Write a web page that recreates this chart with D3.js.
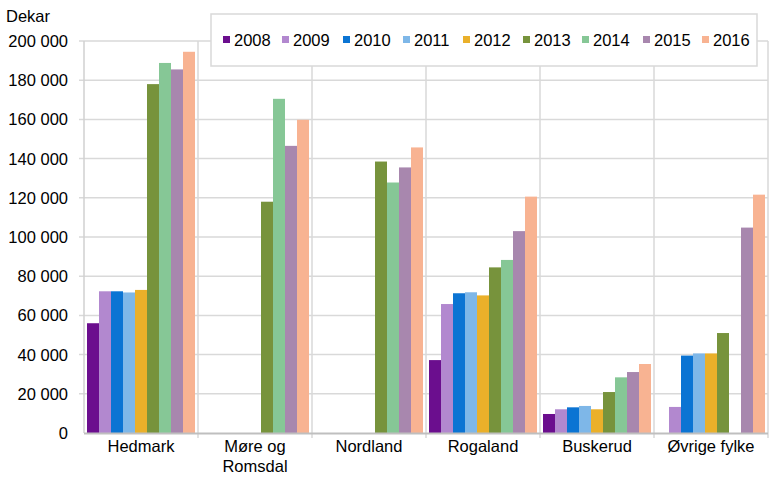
<!DOCTYPE html>
<html><head><meta charset="utf-8">
<script src="https://cdn.jsdelivr.net/npm/d3@7"></script>
<style>body{margin:0;background:#fff}svg text{font-family:"Liberation Sans",Arial,sans-serif;fill:#000}</style>
</head><body><svg id="c" width="772" height="481"></svg>
<script>
const categories = ["Hedmark", "Møre og\nRomsdal", "Nordland", "Rogaland", "Buskerud", "Øvrige fylke"];
const years = ["2008","2009","2010","2011","2012","2013","2014","2015","2016"];
const colors = ["#6B0E8E","#B288CF","#0B74D3","#7EB7E8","#EAB02A","#77933C","#86C796","#A887AE","#F8B392"];
const v2008 = [56000, null, null, 37200, 9700, null];
const v2009 = [72300, null, null, 65800, 12100, 13300];
const v2010 = [72300, null, null, 71300, 13100, 39500];
const v2011 = [71700, null, null, 71800, 13800, 40600];
const v2012 = [73000, null, null, 70200, 12100, 40600];
const v2013 = [178000, 118000, 138500, 84500, 20900, 51000];
const v2014 = [188800, 170500, 127800, 88300, 28400, null];
const v2015 = [185500, 146500, 135500, 103000, 31100, 104800];
const v2016 = [194500, 159800, 145700, 120600, 35200, 121600];
const series = [v2008,v2009,v2010,v2011,v2012,v2013,v2014,v2015,v2016];
const yTicks = [0,20000,40000,60000,80000,100000,120000,140000,160000,180000,200000];

const svg = d3.select("#c");
const L=84, R=768, T=41, B=433;
const x0 = d3.scaleBand().domain(categories).range([L,R]).padding(0);
const x1 = d3.scaleBand().domain(years).range([0,x0.bandwidth()]).paddingInner(0).paddingOuter(0.25);
const y = d3.scaleLinear().domain([0,200000]).range([B,T]);
const fmt = d => d3.format(",")(d).replace(/,/g," ");

// horizontal grid
svg.append("g").selectAll("line").data(yTicks.slice(1)).join("line")
  .attr("x1",L-5).attr("x2",R).attr("y1",d=>y(d)).attr("y2",d=>y(d))
  .attr("stroke","#d9d9d9").attr("stroke-width",1.5);
// vertical grid
svg.append("g").selectAll("line").data(categories).join("line")
  .attr("x1",d=>x0(d)+x0.bandwidth()).attr("x2",d=>x0(d)+x0.bandwidth())
  .attr("y1",T).attr("y2",B+5).attr("stroke","#d9d9d9").attr("stroke-width",1.5);
svg.append("line").attr("x1",L).attr("x2",L).attr("y1",T).attr("y2",B)
  .attr("stroke","#d0d0d0").attr("stroke-width",1.5);

// y labels
svg.append("g").selectAll("text").data(yTicks).join("text")
  .attr("x",68).attr("y",d=>y(d)+6).attr("text-anchor","end")
  .style("font-size","16.5px").text(fmt);
svg.append("text").attr("x",6).attr("y",22).style("font-size","16.5px").text("Dekar");

// bars
const g = svg.append("g");
series.forEach((vals,i)=>{
  g.append("g").selectAll("rect").data(categories.map((c,j)=>({c,v:vals[j]})).filter(d=>d.v!=null)).join("rect")
    .attr("x",d=>x0(d.c)+x1(years[i])).attr("width",x1.bandwidth())
    .attr("y",d=>y(d.v)).attr("height",d=>B-y(d.v)).attr("fill",colors[i]);
});
// x axis line
svg.append("line").attr("x1",L).attr("x2",R).attr("y1",B+0.5).attr("y2",B+0.5)
  .attr("stroke","#bfbfbf").attr("stroke-width",2);

// category labels
categories.forEach(c=>{
  const t = svg.append("text").attr("x",x0(c)+x0.bandwidth()/2).attr("y",452)
    .attr("text-anchor","middle").style("font-size","16.5px");
  c.split("\n").forEach((s,k)=>t.append("tspan").attr("x",x0(c)+x0.bandwidth()/2).attr("dy",k?20:0).text(s));
});

// legend
svg.append("rect").attr("x",211).attr("y",14).attr("width",546).attr("height",52)
  .attr("fill","#fff").attr("stroke","#d9d9d9").attr("stroke-width",1.5);
const lx = [223,282,343,403,463,523,582,643,702];
years.forEach((yr,i)=>{
  svg.append("rect").attr("x",lx[i]).attr("y",36).attr("width",7).attr("height",7).attr("fill",colors[i]);
  svg.append("text").attr("x",lx[i]+11).attr("y",46).style("font-size","16.5px").text(yr);
});
</script></body></html>
